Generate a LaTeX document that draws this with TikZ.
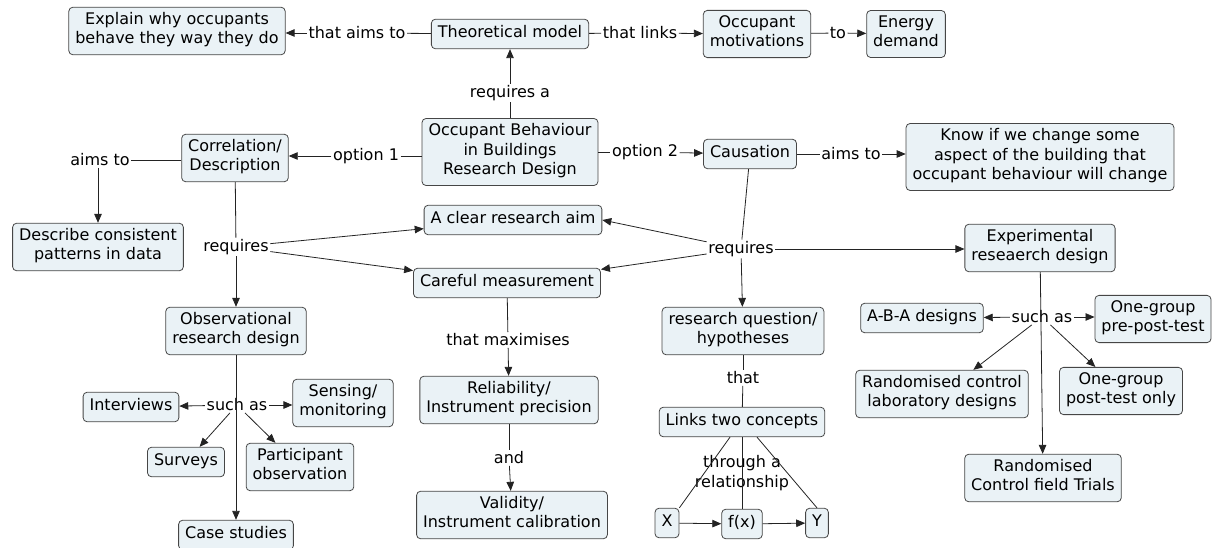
\documentclass[tikz,border=0pt]{standalone}
\usepackage{fontspec}
\setmainfont{DejaVu Sans}
\usetikzlibrary{arrows.meta}
\definecolor{boxfill}{RGB}{234,242,246}
\definecolor{boxdraw}{RGB}{70,70,70}
\definecolor{linkcol}{RGB}{35,35,35}
\tikzset{
  cbox/.style={draw=boxdraw, fill=boxfill, rounded corners=4pt, line width=0.8pt,
    align=center, inner xsep=6.5pt, inner ysep=5pt,
    font=\fontsize{16}{19.5}\selectfont, execute at begin node=\strut, execute at end node=\strut},
  lbl/.style={align=center, inner sep=1.5pt, font=\fontsize{16}{19.5}\selectfont},
  conn/.style={draw=linkcol, line width=0.8pt},
  arr/.style={conn, -{Triangle[length=9pt,width=7.5pt]}}
}
\begin{document}
\begin{tikzpicture}[x=1pt,y=-1pt]
\useasboundingbox (0,0) rectangle (1216,548);
% concepts
\node[cbox] (explain) at (177,31) {Explain why occupants\\behave they way they do};
\node[cbox] (theory) at (510,34) {Theoretical model};
\node[cbox] (motiv) at (757,34) {Occupant\\motivations};
\node[cbox] (energy) at (906,34) {Energy\\demand};
\node[cbox] (obrd) at (510,152) {Occupant Behaviour\\in Buildings\\Research Design};
\node[cbox] (caus) at (750,154) {Causation};
\node[cbox] (know) at (1040,157) {Know if we change some\\aspect of the building that\\occupant behaviour will change};
\node[cbox] (corr) at (235,158) {Correlation/\\Description};
\node[cbox] (describe) at (98,247) {Describe consistent\\patterns in data};
\node[cbox] (aim) at (513,220) {A clear research aim};
\node[cbox] (meas) at (507,283) {Careful measurement};
\node[cbox] (rq) at (743,331) {research question/\\hypotheses};
\node[cbox] (exp) at (1040,248) {Experimental\\reseaerch design};
\node[cbox] (obs) at (236,331) {Observational\\research design};
\node[cbox] (interv) at (131,407) {Interviews};
\node[cbox] (sensing) at (343,403) {Sensing/\\monitoring};
\node[cbox] (surveys) at (186,462) {Surveys};
\node[cbox] (partic) at (300,467) {Participant\\observation};
\node[cbox] (case) at (236,535) {Case studies};
\node[cbox] (rel) at (509,400) {Reliability/\\Instrument precision};
\node[cbox] (val) at (512,515) {Validity/\\Instrument calibration};
\node[cbox] (links) at (742,422) {Links two concepts};
\node[cbox] (X) at (667,523) {X};
\node[cbox] (fx) at (742,524) {f(x)};
\node[cbox] (Y) at (817,523) {Y};
\node[cbox] (aba) at (922,318) {A-B-A designs};
\node[cbox] (pre) at (1153,319) {One-group\\pre-post-test};
\node[cbox] (rlab) at (942,394) {Randomised control\\laboratory designs};
\node[cbox] (post) at (1121,391) {One-group\\post-test only};
\node[cbox] (rfield) at (1043,478) {Randomised\\Control field Trials};
% link labels
\node[lbl] (laims) at (357,33) {that aims to};
\node[lbl] (llinks) at (640,33) {that links};
\node[lbl] (lto) at (838,33) {to};
\node[lbl] (lreqa) at (510,93) {requires a};
\node[lbl] (lopt1) at (366,156) {option 1};
\node[lbl] (lopt2) at (645,152) {option 2};
\node[lbl] (laimsb) at (851,154) {aims to};
\node[lbl] (laimsa) at (100,160) {aims to};
\node[lbl] (lreq1) at (236,247) {requires};
\node[lbl] (lreq2) at (741,249) {requires};
\node[lbl] (lmax) at (508,340) {that maximises};
\node[lbl] (land) at (509,458) {and};
\node[lbl] (lthat) at (743,378) {that};
\node[lbl] (lrel) at (742,473) {through a\\relationship};
\node[lbl] (lsuch1) at (237,405) {such as};
\node[lbl] (lsuch2) at (1042,317) {such as};
% connectors
\draw[conn] (theory) -- (laims);
\draw[arr] (laims) -- (explain.east |- laims);
\draw[conn] (theory) -- (llinks);
\draw[arr] (llinks) -- (motiv);
\draw[conn] (motiv) -- (lto);
\draw[arr] (lto) -- (energy);
\draw[conn] (obrd) -- (lreqa);
\draw[arr] (lreqa) -- (theory);
\draw[conn] (lopt1) -- (obrd.west |- lopt1);
\draw[arr] (lopt1) -- (corr.east |- lopt1);
\draw[conn] (obrd) -- (lopt2);
\draw[arr] (lopt2) -- (caus);
\draw[conn] (caus) -- (laimsb);
\draw[arr] (laimsb) -- (know.west |- laimsb);
\draw[conn] (corr.west |- laimsa) -- (laimsa);
\draw[arr] (describe.north |- laimsa.south) -- (describe.north);
\draw[conn] (corr) -- (lreq1);
\draw[arr] (lreq1) -- (obs);
\draw[arr] (lreq1) -- (aim);
\draw[arr] (lreq1) -- (meas);
\draw[conn] (caus) -- (lreq2);
\draw[arr] (lreq2) -- (aim.east);
\draw[arr] (lreq2) -- (meas);
\draw[arr] (lreq2) -- (rq);
\draw[arr] (lreq2) -- (exp.west |- lreq2);
\draw[conn] (meas) -- (lmax);
\draw[arr] (lmax) -- (rel);
\draw[conn] (rel) -- (land);
\draw[arr] (land) -- (val);
\draw[conn] (rq) -- (lthat);
\draw[conn] (lthat) -- (links);
\draw[conn] ([xshift=-12pt]links.south) -- (X.north east);
\draw[conn] (links.south) -- (fx.north);
\draw[conn] ([xshift=15pt]links.south) -- (Y.north);
\draw[arr] (X) -- (fx);
\draw[arr] (fx) -- (Y);
\draw[arr] (obs) -- (case);
\draw[arr] (lsuch1) -- (interv);
\draw[arr] (lsuch1) -- (sensing.west |- lsuch1);
\draw[arr] (lsuch1) -- (surveys);
\draw[arr] (lsuch1) -- (partic);
\draw[arr] (exp) -- (rfield);
\draw[arr] (lsuch2) -- (aba);
\draw[arr] (lsuch2) -- (pre.west |- lsuch2);
\draw[arr] (lsuch2) -- (rlab);
\draw[arr] (lsuch2) -- (post);
\end{tikzpicture}
\end{document}
